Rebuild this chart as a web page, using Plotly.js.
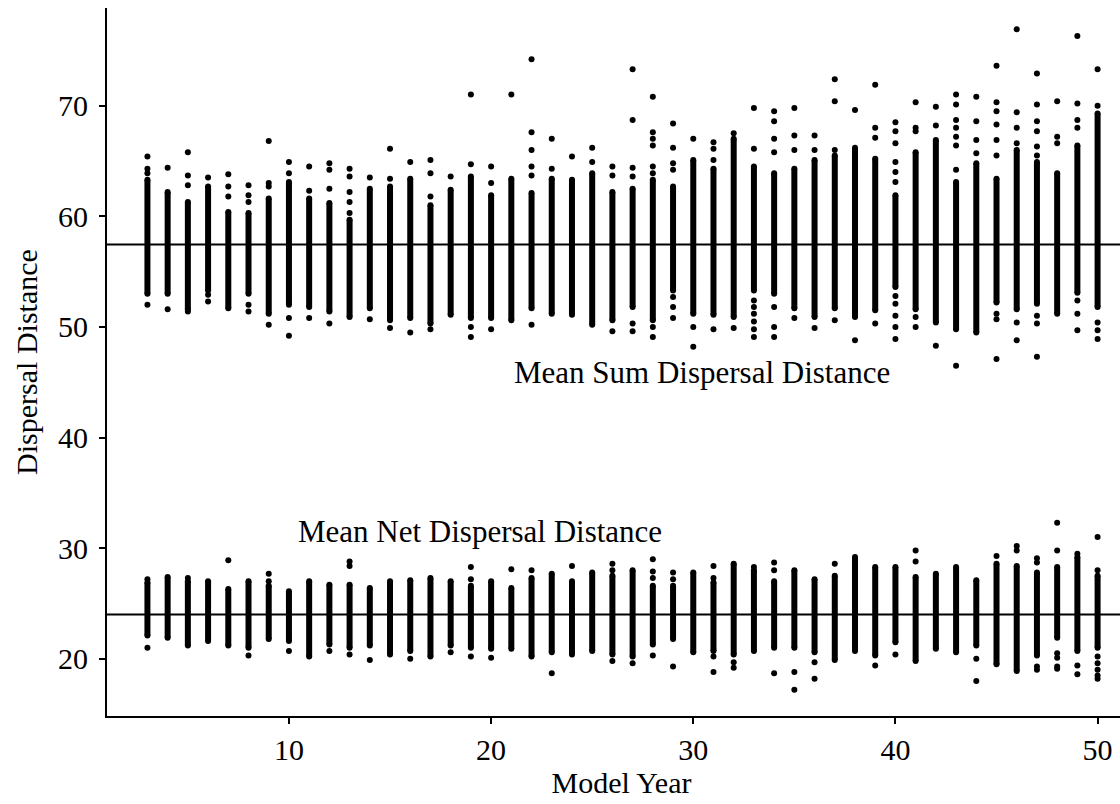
<!DOCTYPE html>
<html>
<head>
<meta charset="utf-8">
<script src="https://cdn.plot.ly/plotly-3.0.1.min.js"></script>
<style>
  html, body { margin: 0; padding: 0; background: #fff; overflow: hidden; }
  #chart { width: 1136px; height: 804px; }
</style>
</head>
<body>
<div id="chart"></div>
<script>
// ---- Data ----
const years = [3,4,5,6,7,8,9,10,11,12,13,14,15,16,17,18,19,20,21,22,23,24,25,26,27,28,29,30,31,32,33,34,35,36,37,38,39,40,41,42,43,44,45,46,47,48,49,50];

// Mean Sum Dispersal Distance: dense core of each year's column (low / high)
const sumLo = [53.0,53.0,51.6,53.3,51.7,53.0,51.2,52.0,51.8,51.4,50.9,51.7,50.6,50.8,50.3,51.1,50.8,50.8,50.6,51.7,51.2,51.1,50.2,50.6,51.8,50.6,53.3,51.2,51.1,50.9,53.3,53.0,51.7,50.9,51.7,50.9,51.5,53.6,51.6,50.4,49.8,49.5,52.2,51.6,52.1,51.2,53.1,51.8];
const sumHi = [63.3,62.2,61.3,62.7,60.4,60.3,61.6,63.1,61.6,61.2,59.7,62.5,62.7,63.4,61.0,62.4,63.6,61.9,63.4,62.1,63.4,63.3,63.9,62.2,62.5,63.3,62.7,65.1,64.3,67.0,64.5,63.9,64.3,65.1,65.5,66.2,65.2,61.9,65.8,66.9,63.1,64.8,63.4,66.0,64.9,63.9,66.4,69.3];
// scattered individual runs outside the dense core
const sumPts = [
  [65.4,64.3,63.9,52.0],
  [64.4,51.6],
  [65.8,63.7,62.8,51.4],
  [63.5,52.9,52.3],
  [63.8,62.7,61.8],
  [62.8,61.9,61.3,52.0,51.4],
  [66.8,63.0,62.7,50.2],
  [64.9,63.9,50.8,49.2],
  [64.5,62.3,50.8],
  [64.8,64.2,62.5,50.3],
  [64.3,63.6,62.2,61.3,60.3],
  [63.5,50.7],
  [66.1,63.4,49.9],
  [64.9,49.5],
  [65.1,63.9,61.8,49.8],
  [63.6],
  [71.0,64.7,50.0,49.1],
  [64.5,63.0,49.8],
  [71.0],
  [74.2,67.6,66.0,64.5,63.7,50.2],
  [67.0,64.3],
  [65.4],
  [66.2,64.9],
  [64.5,63.7,49.6],
  [73.3,68.7,64.4,63.6,50.3,49.6],
  [70.8,67.6,67.0,66.4,64.5,63.9,50.0,49.1],
  [68.4,66.2,64.8,64.2,52.7,51.8,50.8],
  [67.0,50.0,48.2],
  [66.7,66.1,65.1,49.8],
  [67.5,49.9],
  [69.8,66.1,52.4,51.8,51.2,50.5,49.8,49.1],
  [69.5,68.6,67.0,65.8,51.8,50.0,49.1],
  [69.8,67.3,66.0,50.8],
  [67.3,66.0,49.9],
  [72.4,70.4,66.0,50.6],
  [69.6,48.8],
  [71.9,68.0,67.1,50.3],
  [68.5,67.7,66.6,64.9,64.0,63.1,52.8,52.1,51.0,50.0,48.9],
  [70.3,68.0,67.7,50.9,50.0],
  [69.9,68.2,48.3],
  [71.0,70.1,68.7,68.0,67.2,66.4,64.2,46.5],
  [70.8,68.6,66.9,65.7],
  [73.6,70.3,69.5,68.3,66.9,65.5,51.2,50.7,47.1],
  [76.9,69.4,68.0,66.6,50.4,48.8],
  [72.9,70.1,68.6,67.7,66.3,65.5,51.0,50.3,47.3],
  [70.4,67.2,66.6],
  [76.3,70.2,68.7,68.0,52.4,51.2,49.7],
  [73.3,70.0,50.4,49.7,48.9]
];

// Mean Net Dispersal Distance
const netLo = [22.1,21.9,21.2,21.6,21.2,21.0,21.8,21.6,20.2,21.3,21.0,21.2,20.4,20.7,20.2,21.2,21.0,20.9,20.9,20.2,20.6,20.4,20.7,20.4,20.2,21.3,21.8,20.6,20.7,20.4,20.7,21.0,21.0,20.6,19.9,20.7,20.3,21.5,19.8,20.9,20.6,21.2,19.5,18.9,20.3,21.9,20.7,21.0];
const netHi = [26.9,27.4,27.0,27.0,26.3,27.0,26.6,26.1,27.0,26.7,26.7,26.4,27.0,27.1,27.3,27.0,26.6,27.0,26.4,27.3,27.7,27.0,27.8,27.5,28.0,26.6,26.6,27.8,26.9,28.6,28.0,27.0,28.0,27.2,27.5,29.2,28.3,28.3,27.4,27.7,28.3,27.1,28.6,28.4,27.8,28.3,29.2,27.5];
const netPts = [
  [27.2,21.0],
  [],
  [27.3],
  [],
  [28.9],
  [20.3],
  [27.7,27.0],
  [20.7],
  [],
  [20.7],
  [28.8,28.4,20.4],
  [19.9],
  [],
  [20.0],
  [],
  [20.6],
  [28.3,27.2,20.2],
  [20.1],
  [28.1],
  [28.0],
  [18.7],
  [28.4],
  [],
  [28.6,28.0,19.8],
  [19.6],
  [29.0,27.9,27.3,20.3],
  [27.8,27.2,19.3],
  [],
  [28.4,27.3,20.2,18.8],
  [19.7,19.2],
  [28.3],
  [28.7,28.0,18.7],
  [18.8,17.2],
  [19.7,18.2],
  [28.6],
  [],
  [19.4],
  [20.4],
  [29.8,28.8],
  [],
  [],
  [20.0,18.0],
  [29.3],
  [30.2,29.8],
  [29.1,28.7,19.3,19.0],
  [32.3,29.8,20.5,20.1,19.3,19.1],
  [29.5,19.4,18.6],
  [31.0,28.0,20.2,19.6,19.0,18.5,18.2]
];

const sumMean = 57.45;
const netMean = 24.0;

const xTicks = [10,20,30,40,50];
const yTicks = [20,30,40,50,60,70];

// ---- Build traces ----
function band(lo, hi) {
  const x = [], y = [];
  years.forEach((yr, i) => { x.push(yr, yr, null); y.push(lo[i], hi[i], null); });
  return { x, y, type: 'scatter', mode: 'lines+markers', hoverinfo: 'skip',
           line: { color: '#000', width: 6 }, marker: { color: '#000', size: 6 }, showlegend: false };
}
function pts(list) {
  const x = [], y = [];
  years.forEach((yr, i) => list[i].forEach(v => { x.push(yr); y.push(v); }));
  return { x, y, type: 'scatter', mode: 'markers', hoverinfo: 'skip',
           marker: { color: '#000', size: 6 }, showlegend: false };
}

const FONT = 'Liberation Serif, Times New Roman, serif';
const data = [band(sumLo, sumHi), pts(sumPts), band(netLo, netHi), pts(netPts)];

const layout = {
  width: 1136, height: 804,
  margin: { l: 107, r: 0, t: 8, b: 88 },
  paper_bgcolor: '#fff', plot_bgcolor: '#fff',
  font: { family: FONT, color: '#000', size: 30 },
  xaxis: {
    range: [1.0, 51.9], tickvals: xTicks, ticktext: xTicks.map(String),
    showgrid: false, zeroline: false, showline: true, linecolor: '#000', linewidth: 2,
    ticks: 'outside', ticklen: 6, tickwidth: 2, tickcolor: '#000',
    tickfont: { family: FONT, size: 30, color: '#000' },
    title: { text: 'Model Year', font: { family: FONT, size: 30, color: '#000' }, standoff: 6 }
  },
  yaxis: {
    range: [14.83, 78.83], tickvals: yTicks, ticktext: yTicks.map(String),
    showgrid: false, zeroline: false, showline: true, linecolor: '#000', linewidth: 2,
    ticks: 'outside', ticklen: 6, tickwidth: 2, tickcolor: '#000', ticklabelstandoff: 5,
    tickfont: { family: FONT, size: 30, color: '#000' },
    title: { text: 'Dispersal Distance', font: { family: FONT, size: 30, color: '#000' }, standoff: 12 }
  },
  shapes: [
    { type: 'line', xref: 'paper', x0: 0, x1: 1, yref: 'y', y0: sumMean, y1: sumMean, line: { color: '#000', width: 2 } },
    { type: 'line', xref: 'paper', x0: 0, x1: 1, yref: 'y', y0: netMean, y1: netMean, line: { color: '#000', width: 2 } }
  ],
  annotations: [
    { text: 'Mean Sum Dispersal Distance', x: 30.45, y: 45.88, xref: 'x', yref: 'y', showarrow: false,
      font: { family: FONT, size: 31, color: '#000' } },
    { text: 'Mean Net Dispersal Distance', x: 19.47, y: 31.55, xref: 'x', yref: 'y', showarrow: false,
      font: { family: FONT, size: 31, color: '#000' } }
  ]
};

Plotly.newPlot('chart', data, layout, { displayModeBar: false, staticPlot: true });
</script>
</body>
</html>
